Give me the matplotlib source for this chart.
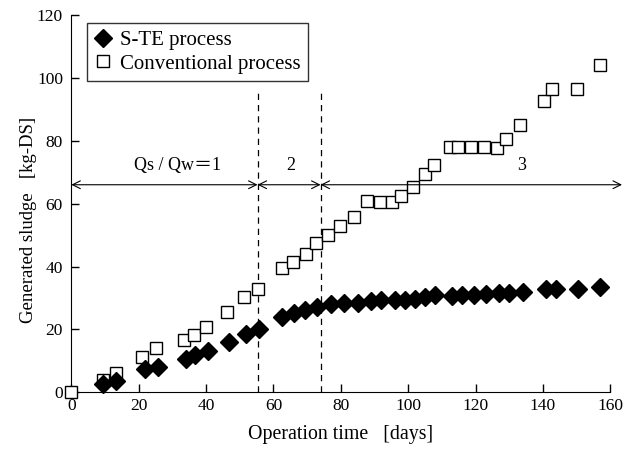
import numpy as np
import matplotlib.pyplot as plt

plt.rcParams['font.family'] = ['Liberation Serif', 'DejaVu Serif']

# S-TE process
ste_days = [9.3, 13.4, 21.8, 25.7, 33.9, 36.6, 40.5, 46.9, 52, 55.8,
            62.5, 66, 69.5, 73, 77, 81, 85, 89, 92, 96, 99, 102, 105, 108,
            113, 116, 119.5, 123, 127, 130, 134, 141, 144, 150.5, 157]
ste_sludge = [2.7, 3.5, 7.3, 8.2, 10.5, 11.8, 13.3, 16, 18.5, 20.3,
              24, 25.2, 26.3, 27.3, 28.2, 28.5, 28.5, 29, 29.3, 29.5, 29.5, 29.8, 30.3, 31,
              30.5, 31, 31, 31.4, 31.7, 31.7, 32, 33, 33, 33, 33.5]

# Conventional process
conv_days = [0, 9.3, 13.4, 21.1, 25.2, 33.4, 36.3, 40, 46.1, 51.4, 55.5,
             62.6, 65.9, 69.7, 72.7, 76.3, 79.8, 83.8, 87.9, 91.7, 95.2, 97.8,
             101.3, 105.1, 107.6, 112.3, 114.9, 118.6, 122.6, 126.3, 129.1,
             133.1, 140.4, 142.7, 150.1, 156.9]
conv_sludge = [0, 3.8, 6.2, 11.1, 14.1, 16.7, 18.2, 20.8, 25.5, 30.3, 33,
               39.6, 41.4, 43.9, 47.4, 49.9, 52.9, 55.8, 60.9, 60.6, 60.6, 62.5,
               65.2, 69.4, 72.3, 77.9, 78.1, 77.9, 77.9, 77.6, 80.6,
               85.1, 92.6, 96.4, 96.4, 104]

# phase boundaries (days) and labels
phase_edges = [0, 55.3, 74, 163.5]
phase_labels = ['Qs / Qw\uff1d1', '2', '3']
phase_label_x = [31.4, 65, 133.7]

fig = plt.figure(figsize=(6.34, 4.5), dpi=100)
ax = fig.add_axes([0.1125, 0.128, 0.85, 0.839])

ax.plot(conv_days, conv_sludge, 's', ms=9, mfc='white', mec='black', mew=1.0,
        label='Conventional process', clip_on=False, zorder=3)
ax.plot(ste_days, ste_sludge, 'D', ms=9, color='black',
        label='S-TE process', clip_on=False, zorder=4)

for xe in phase_edges[1:3]:
    ax.plot([xe, xe], [0, 96], color='black', lw=0.9, ls=(0, (5, 4)))

for i in range(3):
    ax.annotate('', xy=(phase_edges[i], 66), xytext=(phase_edges[i + 1], 66),
                arrowprops=dict(arrowstyle='<->', color='black', lw=0.8,
                                shrinkA=0, shrinkB=0, mutation_scale=14),
                annotation_clip=False)
    ax.text(phase_label_x[i], 72, phase_labels[i], ha='center', va='center',
            fontsize=13, family=['Liberation Serif', 'Noto Sans CJK JP'])

ax.set_xlim(0, 160)
ax.set_ylim(0, 120)
ax.set_xticks(np.arange(0, 161, 20))
ax.set_yticks(np.arange(0, 121, 20))
for s in ['top', 'right']:
    ax.spines[s].set_visible(False)
ax.tick_params(direction='in', length=6, width=1, labelsize=12.5)
ax.tick_params(axis='y', pad=6)
ax.tick_params(axis='x', pad=4)
ax.set_xlabel('Operation time   [days]', fontsize=14.3, labelpad=8)
ax.set_ylabel('Generated sludge   [kg-DS]', fontsize=13.5)
ax.yaxis.set_label_coords(-0.064, 0.457)

h, l = ax.get_legend_handles_labels()
leg = ax.legend(h[::-1], l[::-1], loc='upper left', bbox_to_anchor=(0.03, 0.978),
                fontsize=15, frameon=True, fancybox=False, edgecolor='black',
                handlelength=0.8, handletextpad=0.4, borderpad=0.35,
                labelspacing=0.2, borderaxespad=0)
leg.get_frame().set_linewidth(1.0)

fig.savefig('out.png', dpi=100)
